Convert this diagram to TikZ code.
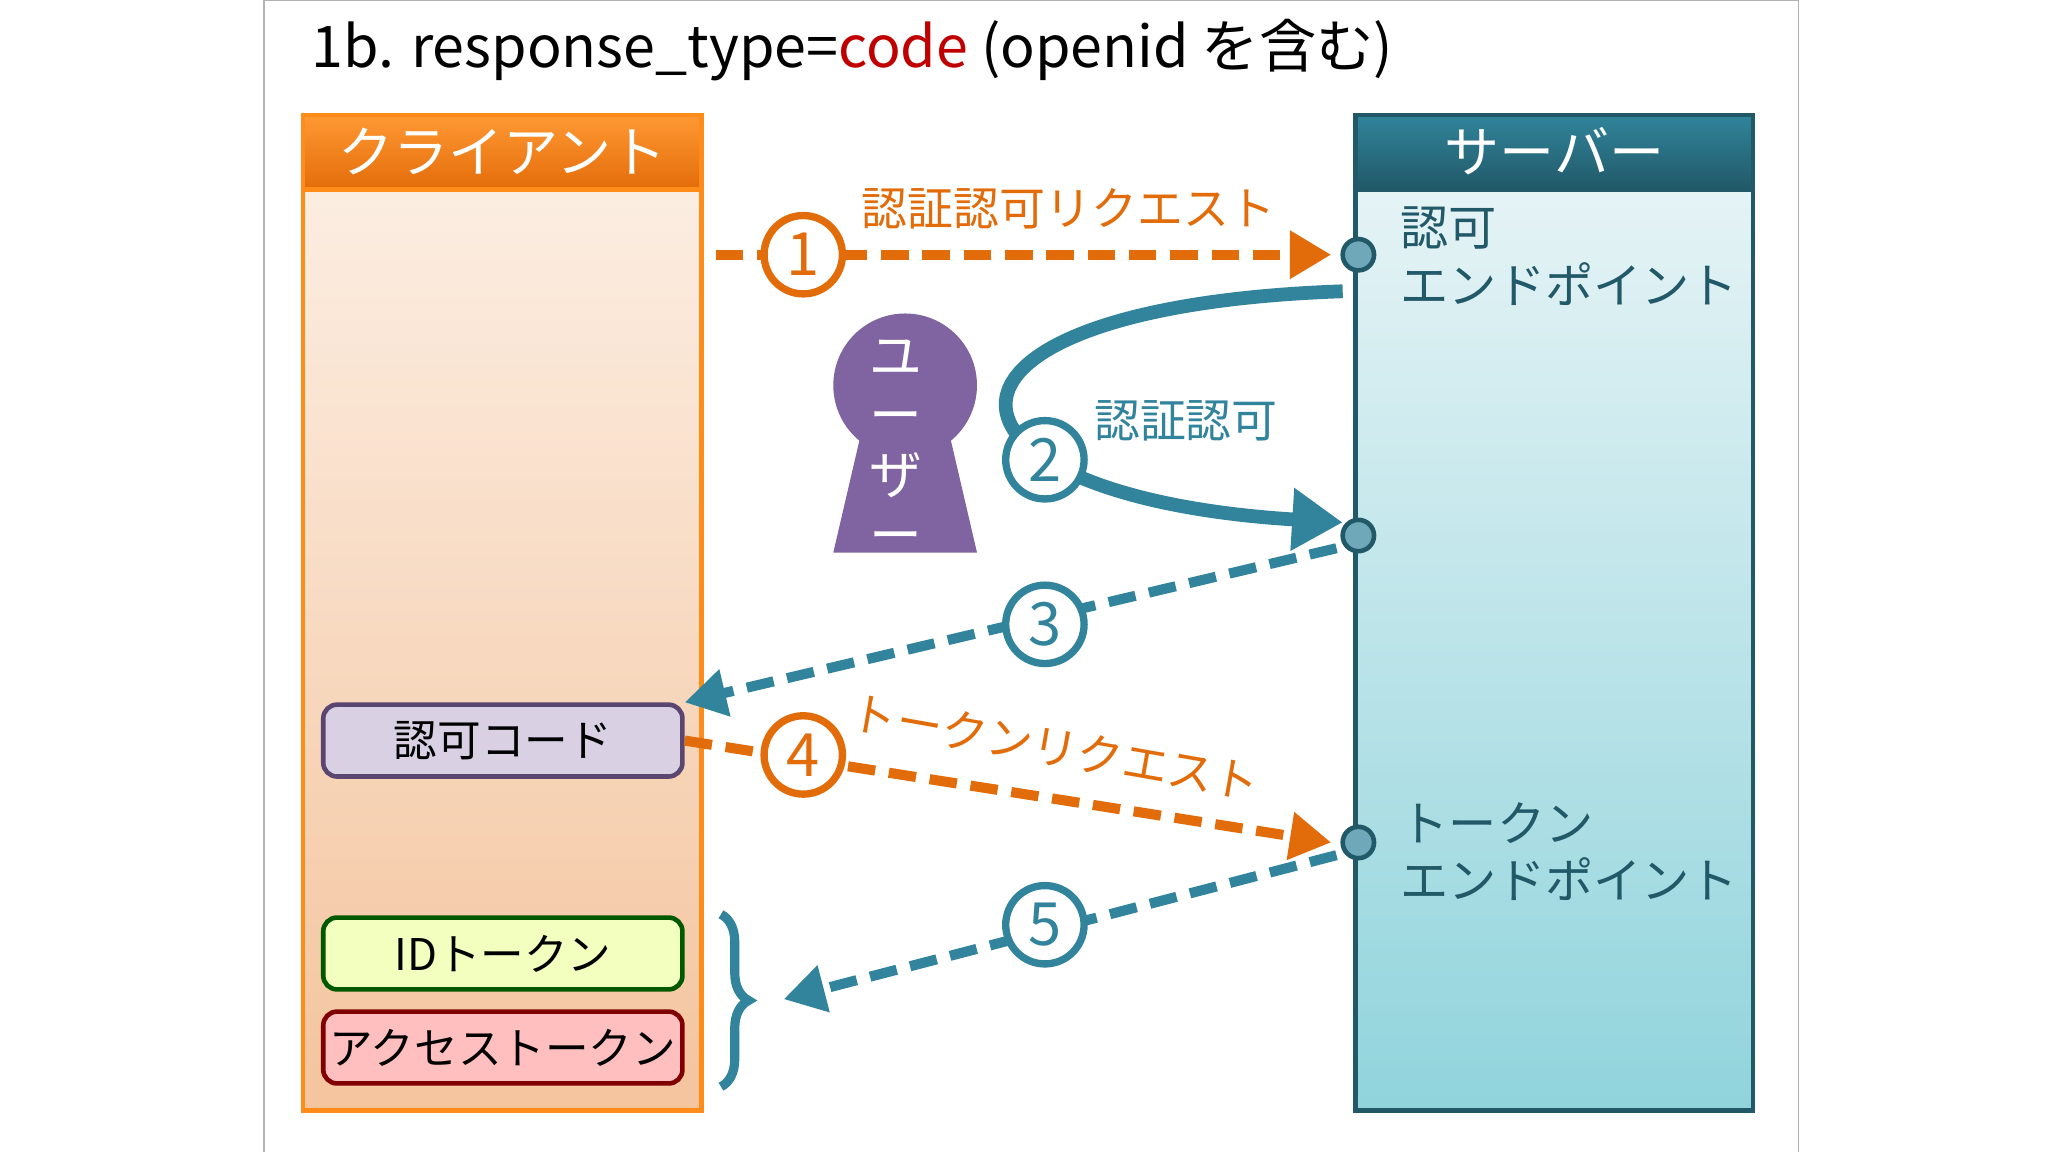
\documentclass[tikz,border=0pt]{standalone}
\usepackage{fontspec}
\setmainfont{Noto Sans CJK JP}
\usetikzlibrary{arrows.meta,decorations.pathreplacing}
\definecolor{codered}{HTML}{C00000}
\definecolor{orng}{HTML}{E36C0A}
\definecolor{teal}{HTML}{31849B}
\definecolor{srvdark}{HTML}{215968}
\definecolor{userpurple}{HTML}{8064A2}
\tikzset{
  stepnum/.style={circle,draw,line width=1.6pt,fill=white,minimum size=6mm,inner sep=0pt,font=\fontsize{13}{13}\selectfont},
  dot/.style={circle,draw=srvdark,fill=teal!70,line width=1pt,minimum size=2.4mm,inner sep=0pt},
  flow/.style={line width=2.2pt,dash pattern=on 6pt off 3pt,-{Triangle[length=9pt,width=10pt]}},
  item/.style={draw,line width=1pt,rounded corners=3pt,minimum width=27.5mm,minimum height=5.5mm,inner xsep=1pt,font=\fontsize{9.5}{10}\selectfont},
  endtext/.style={anchor=west,align=left,text=srvdark,font=\fontsize{10.5}{12.5}\selectfont}
}
\begin{document}
\begin{tikzpicture}[x=0.1mm,y=-0.1mm]
\useasboundingbox (0,0) rectangle (1568,882);
\fill[white] (0,0) rectangle (1568,882);
\draw[gray!60] (202,882)--(202,0)--(1377,0)--(1377,882);
% title
\node[anchor=west,font=\fontsize{12.5}{13}\selectfont] (title) at (226,38) {1b. response\_type=\textcolor{codered}{code} (openid を含む)};
% client
\shade[top color=orng!12,bottom color=orng!40] (232,145) rectangle (537,850);
\shade[top color=orange!80,bottom color=orng] (232,88) rectangle (537,145);
\draw[orange!90,line width=1pt] (232,88) rectangle (537,850) (232,145)--(537,145);
\node[text=white,font=\fontsize{12}{13}\selectfont] (client) at (385,116) {クライアント};
% server
\shade[top color=cyan!20!teal!12,bottom color=cyan!30!teal!50] (1038,145) rectangle (1342,850);
\shade[top color=teal,bottom color=srvdark] (1038,88) rectangle (1342,145);
\draw[srvdark,line width=1pt] (1038,88) rectangle (1342,850) (1038,145)--(1342,145);
\node[text=white,font=\fontsize{12}{13}\selectfont] (server) at (1190,116) {サーバー};
\node[endtext] (authep) at (1060,196) {認可\\エンドポイント};
\node[endtext] (tokenep) at (1060,652) {トークン\\エンドポイント};
\node[dot] (d1) at (1040,195) {};
\node[dot] (d2) at (1040,410) {};
\node[dot] (d3) at (1040,645) {};
% user
\fill[userpurple] (693,295) circle (55) (662,320)--(724,320)--(748,423)--(638,423)--cycle;
\node[text=white,align=center,font=\fontsize{11.5}{13}\selectfont,inner sep=0pt] (user) at (686,342) {ユ\\ー\\ザ\\ー};
% client items
\node[item,draw=userpurple!70!black,fill=userpurple!30] (code) at (385,567) {認可コード};
\node[item,draw=green!35!black,fill=green!20!yellow!25] (idtok) at (385,730) {IDトークン};
\node[item,draw=red!50!black,fill=red!25] (actok) at (385,802) {アクセストークン};
% 1
\coordinate (s1) at (548,195);
\draw[flow,orng] (s1) -- ([xshift=-2pt]d1.west);
\node[stepnum,draw=orng,text=orng] (n1) at (615,195) {1};
\node[text=orng,font=\fontsize{10}{12}\selectfont] (l1) at (818,160) {認証認可リクエスト};
% 2
\coordinate (s2) at (1028,223);
\coordinate (e2) at (1028,400);
\draw[teal,line width=3pt,-{Triangle[length=11pt,width=13pt]}] (s2) .. controls (680,235) and (700,380) .. (e2);
\node[stepnum,draw=teal,text=teal] (n2) at (800,352) {2};
\node[text=teal,font=\fontsize{10}{12}\selectfont] (l2) at (908,322) {認証認可};
% 3
\draw[flow,teal] ([xshift=-2pt]d2.south west) -- (code.north east);
\node[stepnum,draw=teal,text=teal] (n3) at (800,478) {3};
% 4
\draw[flow,orng] (code.east) -- ([xshift=-2pt]d3.west);
\node[stepnum,draw=orng,text=orng] (n4) at (615,578) {4};
\node[text=orng,rotate=-10,font=\fontsize{10}{12}\selectfont] (l4) at (808,572) {トークンリクエスト};
% 5
\coordinate (e5) at (600,765);
\draw[flow,teal] ([xshift=-2pt]d3.south west) -- (e5);
\node[stepnum,draw=teal,text=teal] (n5) at (800,708) {5};
\draw[teal,line width=2pt,decorate,decoration={brace,amplitude=6pt,aspect=0.5}] (552,700) -- (552,832);
\end{tikzpicture}
\end{document}
